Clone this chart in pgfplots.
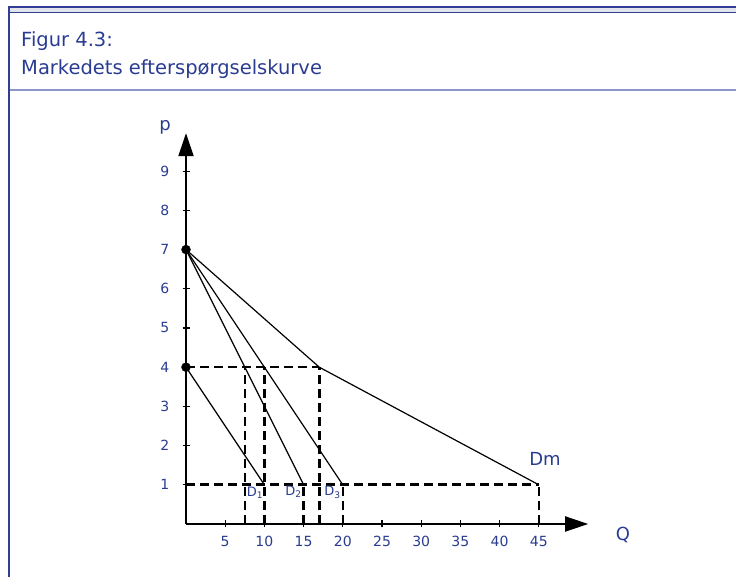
\documentclass[border=0pt]{standalone}
\usepackage{fontspec}
\setmainfont{DejaVu Sans}
\usepackage{pgfplots}
\pgfplotsset{compat=1.18}
\usetikzlibrary{arrows.meta}

\definecolor{txtblue}{RGB}{42,60,145}
\definecolor{frameblue}{RGB}{48,62,150}
\definecolor{sepblue}{RGB}{140,150,200}
\definecolor{bandgray}{RGB}{226,228,236}

\begin{document}
\begin{tikzpicture}[x=1pt,y=1pt]
\path[use as bounding box] (0,0) rectangle (736,577);

% frame and header
\fill[bandgray] (8,564.5) rectangle (736,570);
\draw[frameblue, line width=1.4pt] (8,570) -- (736,570);
\draw[frameblue, line width=1.4pt] (8,564.5) -- (736,564.5);
\draw[sepblue, line width=2.4pt] (8,487) -- (736,487);
\draw[frameblue, line width=2pt] (8.5,570.7) -- (8.5,0);

\node[anchor=base west, inner sep=0pt, text=txtblue,
      font=\fontsize{19.5pt}{22pt}\selectfont] at (21,530.5) {Figur 4.3:};
\node[anchor=base west, inner sep=0pt, text=txtblue,
      font=\fontsize{19.5pt}{22pt}\selectfont] at (21,502.5) {Markedets efterspørgselskurve};

\begin{axis}[
  anchor=south west, at={(186pt,53pt)},
  x=7.84pt, y=39.2pt,
  xmin=0, xmax=51.3, ymin=0, ymax=9.97,
  axis lines=left,
  axis line style={black, line width=2pt, -{Triangle[length=23pt,width=15pt]}},
  xtick={5,10,...,45}, ytick={1,2,...,9},
  tick style={black, line width=1.1pt},
  major tick length=7pt,
  tick align=center,
  /pgf/number format/assume math mode=true,
  ticklabel style={font=\fontsize{14pt}{16pt}\selectfont, text=txtblue, inner sep=0pt},
  yticklabel style={anchor=east, xshift=-13pt},
  xticklabel style={anchor=north, yshift=-8.5pt},
  clip=false,
]
% individual demand curves
\addplot[black, line width=1.2pt] coordinates {(0,4) (10,1)};
\addplot[black, line width=1.2pt] coordinates {(0,7) (15,1)};
\addplot[black, line width=1.2pt] coordinates {(0,7) (20,1)};
% market demand curve
\addplot[black, line width=1.2pt] coordinates {(0,7) (17,4) (45,1)};

% guide lines
\pgfplotsset{guide/.style={black, line width=2.6pt, dash pattern=on 9pt off 5pt}}
\addplot[guide] coordinates {(0,4) (17,4)};
\addplot[guide] coordinates {(0,1) (45,1)};
\addplot[guide] coordinates {(7.5,0) (7.5,4)};
\addplot[guide] coordinates {(10,0) (10,4)};
\addplot[guide] coordinates {(17,0) (17,4)};
\addplot[guide] coordinates {(15,0) (15,1)};
\addplot[guide] coordinates {(20,0) (20,1)};
\addplot[guide] coordinates {(45,0) (45,1)};

% choke prices
\addplot[only marks, mark=*, mark size=4.5pt, black] coordinates {(0,7) (0,4)};

% labels
\node[text=txtblue, font=\fontsize{18pt}{20pt}\selectfont] at (axis cs:-2.68,10.13) {p};
\node[text=txtblue, font=\fontsize{18pt}{20pt}\selectfont] at (axis cs:55.74,-0.28) {Q};
\node[text=txtblue, font=\fontsize{18pt}{20pt}\selectfont] at (axis cs:45.8,1.66) {Dm};
\node[text=txtblue, inner sep=0pt, font=\fontsize{13pt}{15pt}\selectfont] at (axis cs:8.8,0.8) {D\textsubscript{1}};
\node[text=txtblue, inner sep=0pt, font=\fontsize{13pt}{15pt}\selectfont] at (axis cs:13.7,0.82) {D\textsubscript{2}};
\node[text=txtblue, inner sep=0pt, font=\fontsize{13pt}{15pt}\selectfont] at (axis cs:18.7,0.81) {D\textsubscript{3}};
\end{axis}
\end{tikzpicture}
\end{document}
